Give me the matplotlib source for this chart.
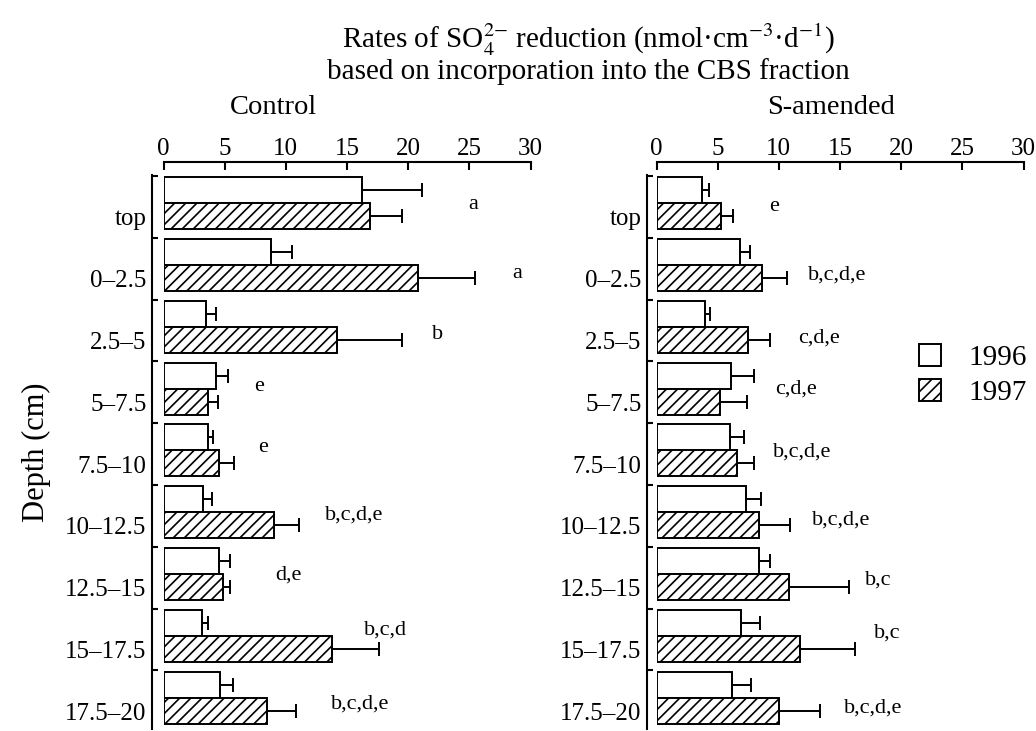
import matplotlib
matplotlib.use('Agg')
import matplotlib.pyplot as plt
import numpy as np
from matplotlib.patches import Patch

plt.rcParams['font.family'] = ['Liberation Serif', 'DejaVu Serif']
plt.rcParams['mathtext.fontset'] = 'stix'
plt.rcParams['hatch.linewidth'] = 1.2

depths = ['top', '0–2.5', '2.5–5', '5–7.5', '7.5–10', '10–12.5',
          '12.5–15', '15–17.5', '17.5–20']

# control plots
ctrl_1996 = [16.2, 8.8, 3.5, 4.3, 3.6, 3.2, 4.5, 3.15, 4.65]
ctrl_1996_err = [4.9, 1.7, 0.8, 1.0, 0.45, 0.77, 0.9, 0.45, 1.03]
ctrl_1997 = [16.9, 20.8, 14.2, 3.6, 4.56, 9.0, 4.83, 13.8, 8.5]
ctrl_1997_err = [2.6, 4.7, 5.3, 0.86, 1.23, 2.08, 0.63, 3.8, 2.34]
ctrl_letters = ['a', 'a', 'b', 'e', 'e', 'b,c,d,e', 'd,e', 'b,c,d', 'b,c,d,e']

# S-amended plots
sa_1996 = [3.75, 6.8, 4.0, 6.1, 5.98, 7.33, 8.37, 6.93, 6.17]
sa_1996_err = [0.55, 0.86, 0.4, 1.86, 1.17, 1.23, 0.89, 1.55, 1.53]
sa_1997 = [5.25, 8.6, 7.5, 5.2, 6.6, 8.4, 10.8, 11.7, 10.05]
sa_1997_err = [1.0, 2.1, 1.8, 2.16, 1.33, 2.55, 4.9, 4.5, 3.35]
sa_letters = ['e', 'b,c,d,e', 'c,d,e', 'c,d,e', 'b,c,d,e', 'b,c,d,e',
              'b,c', 'b,c', 'b,c,d,e']

# where the letters sit (x value, row)
ctrl_letter_pos = [(25.3, 0.02), (28.9, 1.14), (22.4, 2.12), (7.8, 2.97),
                   (8.1, 3.96), (15.6, 5.05), (10.2, 6.02), (18.15, 6.9),
                   (16.1, 8.1)]
sa_letter_pos = [(9.6, 0.06), (14.75, 1.16), (13.3, 2.18), (11.4, 3.01),
                 (11.9, 4.02), (15.1, 5.12), (18.1, 6.09), (18.9, 6.95),
                 (17.7, 8.16)]

W, H = 1036, 731
fig = plt.figure(figsize=(W / 100, H / 100), dpi=100)

h = 0.42
y = np.arange(len(depths))
ekw = dict(ecolor='black', elinewidth=1.4, capsize=4.7, capthick=1.4)


def panel(ax, v96, e96, v97, e97, letters, pos, left_out):
    ax.barh(y - h / 2, v96, height=h, color='white', edgecolor='black',
            linewidth=1.4, xerr=[np.zeros(len(v96)), e96], error_kw=ekw)
    ax.barh(y + h / 2, v97, height=h, color='white', edgecolor='black',
            linewidth=1.4, hatch='///', xerr=[np.zeros(len(v97)), e97],
            error_kw=ekw)
    for s, (px, py) in zip(letters, pos):
        ax.text(px, py, s, ha='center', va='center', fontsize=16)
    ax.set_xlim(0, 30)
    ax.set_ylim(8.5, -0.45)
    ax.spines['right'].set_visible(False)
    ax.spines['bottom'].set_visible(False)
    ax.spines['top'].set_position(('outward', 9.8))
    ax.spines['left'].set_position(('outward', left_out))
    ax.spines['top'].set_linewidth(1.5)
    ax.spines['left'].set_linewidth(1.5)
    ax.xaxis.set_ticks_position('top')
    ax.set_xticks(np.arange(0, 31, 5))
    ax.tick_params(axis='x', direction='in', length=6, width=1.5,
                   labelsize=18, pad=1)
    ax.set_yticks(y + 0.22)
    ax.set_yticklabels(depths)
    ax.set_yticks(y - 0.44, minor=True)
    ax.tick_params(axis='y', which='major', length=0, labelsize=18, pad=4)
    ax.tick_params(axis='y', which='minor', direction='in', length=4,
                   width=1.5)


ax1 = fig.add_axes([163.5 / W, 1 - 728.6 / H, 367 / W, 553.2 / H])
panel(ax1, ctrl_1996, ctrl_1996_err, ctrl_1997, ctrl_1997_err,
      ctrl_letters, ctrl_letter_pos, 8.3)
ax2 = fig.add_axes([656.5 / W, 1 - 728.6 / H, 367 / W, 553.2 / H])
panel(ax2, sa_1996, sa_1996_err, sa_1997, sa_1997_err,
      sa_letters, sa_letter_pos, 6.8)

fig.text(588 / W, 1 - 40 / H,
         r'Rates of SO$_4^{2{-}}$ reduction (nmol·cm$^{-3}$·d$^{-1}$)',
         ha='center', va='center', fontsize=21)
fig.text(588 / W, 1 - 72 / H, 'based on incorporation into the CBS fraction',
         ha='center', va='center', fontsize=21)
fig.text(273 / W, 1 - 107 / H, 'Control', ha='center', va='center',
         fontsize=20.5)
fig.text(831 / W, 1 - 107 / H, 'S-amended', ha='center', va='center',
         fontsize=20.5)
fig.text(36 / W, 1 - 452 / H, 'Depth (cm)', rotation=90, ha='center',
         va='center', fontsize=22)

handles = [Patch(facecolor='white', edgecolor='black', linewidth=1.4),
           Patch(facecolor='white', edgecolor='black', linewidth=1.4,
                 hatch='///')]
fig.legend(handles, ['1996', '1997'], loc='upper left',
           bbox_to_anchor=(919 / W, 1 - 344 / H), frameon=False,
           fontsize=21, handlelength=0.75, handleheight=0.8,
           handletextpad=0.95, labelspacing=0.25, borderpad=0,
           borderaxespad=0)

fig.savefig('out.png', dpi=100)
